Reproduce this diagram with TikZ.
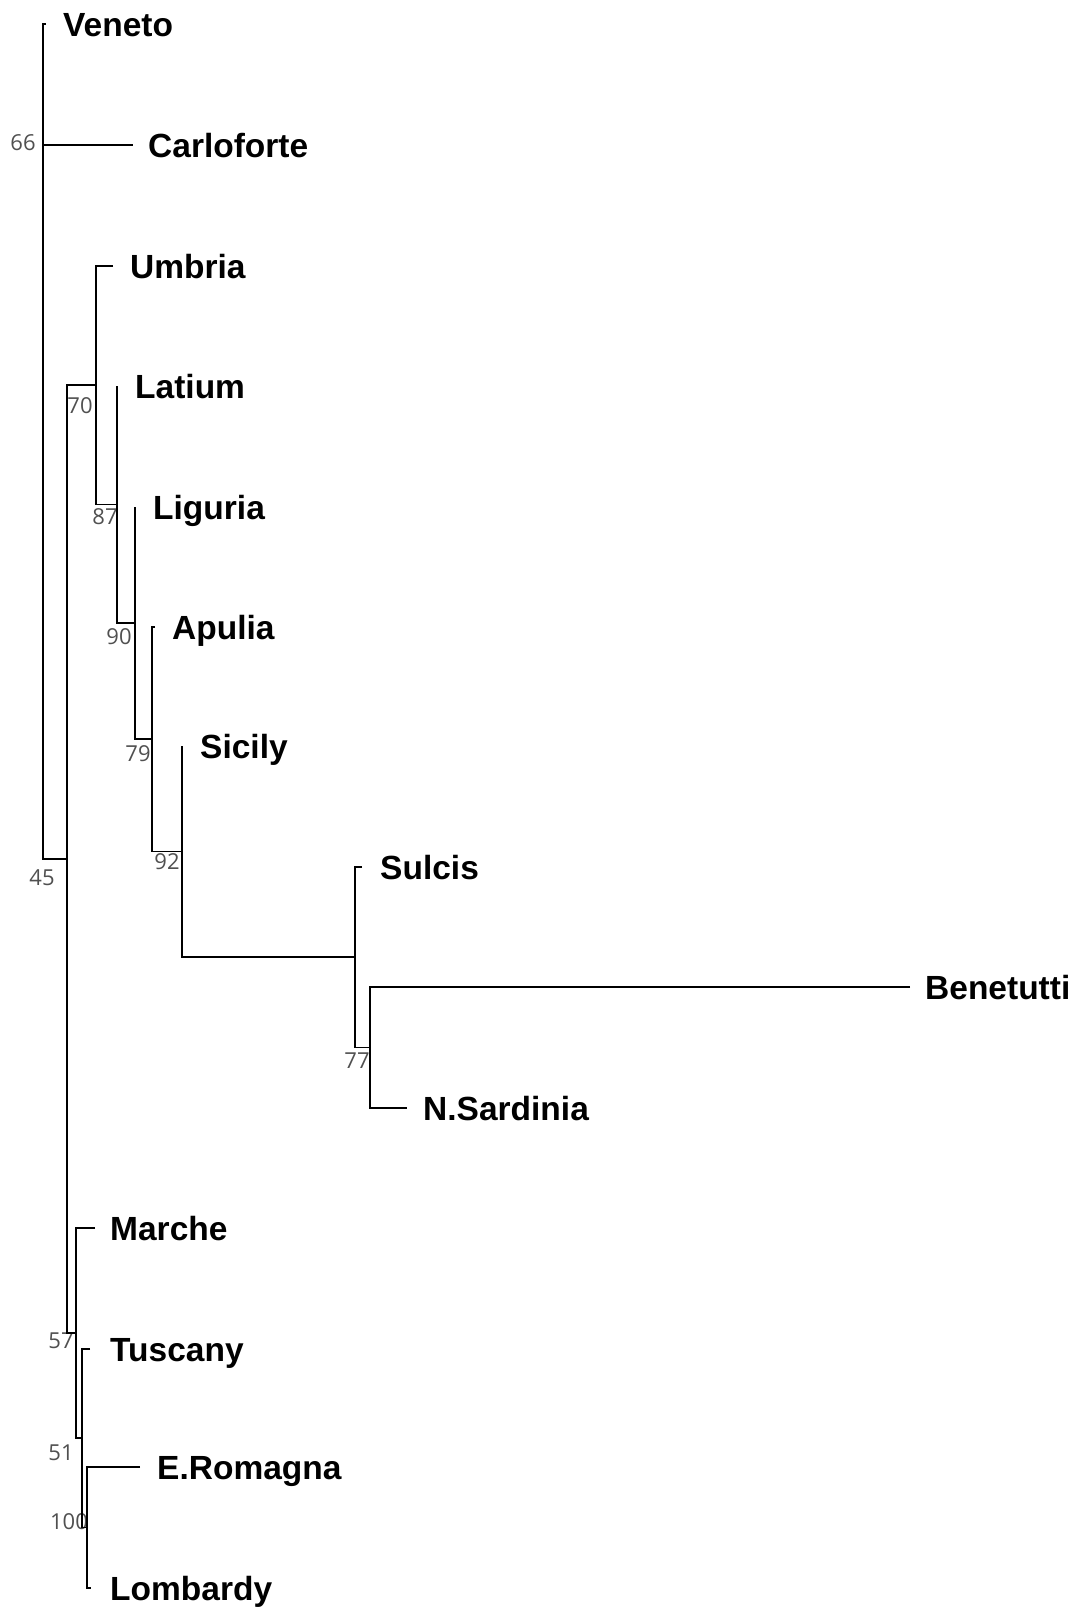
\documentclass[tikz,border=0pt]{standalone}
\usepackage{fontspec}
\setmainfont{Liberation Sans}
\newfontfamily\numfont{Open Sans}
\definecolor{numgray}{RGB}{80,80,80}
\begin{document}
\begin{tikzpicture}[x=1pt,y=-1pt,
  branch/.style={line width=1.8pt, line join=miter},
  taxon/.style={anchor=base west, inner sep=0pt, font=\bfseries\fontsize{33.5}{36}\selectfont},
  support/.style={anchor=center, inner sep=0pt, text=numgray, font=\numfont\fontsize{22}{24}\selectfont}]
\useasboundingbox (0,0) rectangle (1076,1607);
% leaf tips
\coordinate (Veneto) at (46,24);
\coordinate (Carlo) at (133,145);
\coordinate (Umbria) at (113,266);
\coordinate (Latium) at (117,386);
\coordinate (Liguria) at (135,507);
\coordinate (Apulia) at (155,627);
\coordinate (Sicily) at (182,746);
\coordinate (Sulcis) at (362,867);
\coordinate (Benet) at (910,987);
\coordinate (NSard) at (407,1108);
\coordinate (Marche) at (95,1228);
\coordinate (Tuscany) at (90,1349);
\coordinate (ERom) at (140,1467);
\coordinate (Lomb) at (91,1588);
% internal nodes
\coordinate (n77) at (370,1047.5);
\coordinate (nSul) at (355,957);
\coordinate (n92) at (182,851.5);
\coordinate (n79) at (152,739);
\coordinate (n90) at (135,623);
\coordinate (n87) at (117,504.5);
\coordinate (n70) at (96,385);
\coordinate (n100) at (87,1527.5);
\coordinate (n51) at (82,1438);
\coordinate (n57) at (76,1333);
\coordinate (n45) at (67,859);
\coordinate (root) at (43,145);
% support values
\node[support] (s66) at (23,143) {66};
\node[support] (s70) at (80,406) {70};
\node[support] (s87) at (105,517) {87};
\node[support] (s90) at (119,637) {90};
\node[support] (s79) at (138,754) {79};
\node[support] (s92) at (167,862) {92};
\node[support] (s45) at (42,878) {45};
\node[support] (s77) at (357,1061) {77};
\node[support] (s57) at (61,1341) {57};
\node[support] (s51) at (61,1453) {51};
\node[support] (s100) at (69,1522) {100};
% branches
\draw[branch] (Benet) -| (n77) |- (NSard);
\draw[branch] (Sulcis) -| (nSul) |- (n77);
\draw[branch] (Sicily) -| (n92) |- (nSul);
\draw[branch] (Apulia) -| (n79) |- (n92);
\draw[branch] (Liguria) -| (n90) |- (n79);
\draw[branch] (Latium) -| (n87) |- (n90);
\draw[branch] (Umbria) -| (n70) |- (n87);
\draw[branch] (ERom) -| (n100) |- (Lomb);
\draw[branch] (Tuscany) -| (n51) |- (n100);
\draw[branch] (Marche) -| (n57) |- (n51);
\draw[branch] (n70) -| (n45) |- (n57);
\draw[branch] (Veneto) -| (root) |- (n45);
\draw[branch] (root) -- (Carlo);
% taxa
\node[taxon] (tVeneto) at (63,36) {Veneto};
\node[taxon] (tCarlo) at (148,157) {Carloforte};
\node[taxon] (tUmbria) at (130,278) {Umbria};
\node[taxon] (tLatium) at (135,398) {Latium};
\node[taxon] (tLiguria) at (153,519) {Liguria};
\node[taxon] (tApulia) at (172,639) {Apulia};
\node[taxon] (tSicily) at (200,758) {Sicily};
\node[taxon] (tSulcis) at (380,879) {Sulcis};
\node[taxon] (tBenet) at (925,999) {Benetutti};
\node[taxon] (tNSard) at (423,1120) {N.Sardinia};
\node[taxon] (tMarche) at (110,1240) {Marche};
\node[taxon] (tTuscany) at (110,1361) {Tuscany};
\node[taxon] (tERom) at (157,1479) {E.Romagna};
\node[taxon] (tLomb) at (110,1600) {Lombardy};
\end{tikzpicture}
\end{document}
